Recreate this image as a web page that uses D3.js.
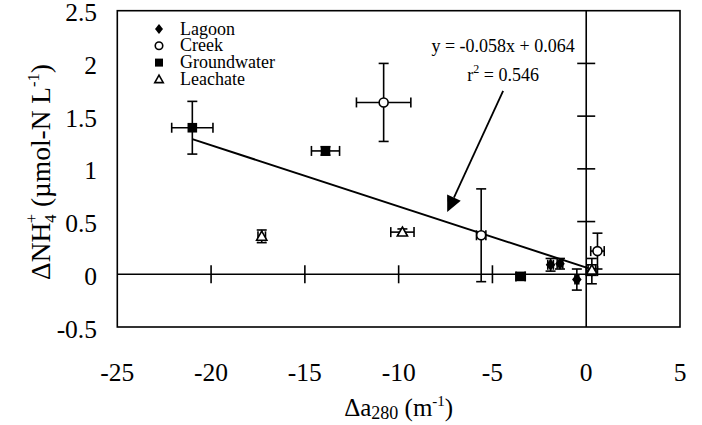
<!DOCTYPE html>
<html><head><meta charset="utf-8">
<script src="https://cdn.jsdelivr.net/npm/d3@7"></script>
<style>
body{margin:0;background:#fff;}
</style></head>
<body><svg id="c" width="702" height="425"></svg>
<script>
// ---- data ----
const xTicks = [-25, -20, -15, -10, -5, 0, 5];
const yTicks = [-0.5, 0, 0.5, 1, 1.5, 2, 2.5];
const xTickLabels = ["-25", "-20", "-15", "-10", "-5", "0", "5"];
const yTickLabels = ["-0.5", "0", "0.5", "1", "1.5", "2", "2.5"];
const seriesNames = ["Lagoon", "Creek", "Groundwater", "Leachate"];

const lagoonX = [-1.9, -1.4, -0.5, 0.3];
const lagoonY = [0.09, 0.10, -0.05, 0.03];
const lagoonXErr = [0.15, 0.15, 0.1, 0.3];
const lagoonYErr = [0.06, 0.05, 0.10, 0.12];

const creekX = [-10.8, -5.6, 0.6];
const creekY = [1.63, 0.37, 0.22];
const creekXErr = [1.45, 0.25, 0.36];
const creekYErr = [0.37, 0.44, 0.17];

const groundX = [-21, -13.9, -3.5];
const groundY = [1.39, 1.17, -0.02];
const groundXErr = [1.1, 0.75, 0.25];
const groundYErr = [0.25, 0.04, 0.03];

const leachX = [-17.3, -9.8, 0.3];
const leachY = [0.36, 0.40, 0.04];
const leachXErr = [0.2, 0.62, 0.2];
const leachYErr = [0.06, 0.03, 0.05];

const regSlope = -0.058, regIntercept = 0.064;
const regXRange = [-21, 0.1];

// ---- chart ----
const FONT = "'Liberation Serif', 'Times New Roman', Tinos, 'DejaVu Serif', serif";
const svg = d3.select("#c");
const x = d3.scaleLinear().domain([-25, 5]).range([117.3, 680]);
const y = d3.scaleLinear().domain([-0.5, 2.5]).range([327, 10.7]);
const g = svg.append("g").attr("font-family", FONT).attr("fill", "#000");
const SW = 1.6;

// box
g.append("rect").attr("x", x(-25)).attr("y", y(2.5))
  .attr("width", x(5) - x(-25)).attr("height", y(-0.5) - y(2.5))
  .attr("fill", "none").attr("stroke", "#000").attr("stroke-width", SW);

// zero lines
g.append("line").attr("x1", x(-25)).attr("x2", x(5)).attr("y1", y(0)).attr("y2", y(0))
  .attr("stroke", "#000").attr("stroke-width", SW);
g.append("line").attr("x1", x(0)).attr("x2", x(0)).attr("y1", y(-0.5)).attr("y2", y(2.5))
  .attr("stroke", "#000").attr("stroke-width", SW);

// ticks on zero lines
xTicks.filter(t => t > -25 && t < 0).forEach(t => {
  g.append("line").attr("x1", x(t)).attr("x2", x(t)).attr("y1", y(0) - 9).attr("y2", y(0) + 9)
    .attr("stroke", "#000").attr("stroke-width", SW);
});
yTicks.filter(t => t > 0 && t < 2.5).forEach(t => {
  g.append("line").attr("x1", x(0) - 9).attr("x2", x(0) + 9).attr("y1", y(t)).attr("y2", y(t))
    .attr("stroke", "#000").attr("stroke-width", SW);
});

// tick labels
xTicks.forEach((t, i) => {
  g.append("text").attr("x", x(t)).attr("y", 381).attr("text-anchor", "middle")
    .attr("font-size", 25.5).text(xTickLabels[i]);
});
yTicks.forEach((t, i) => {
  g.append("text").attr("x", 97).attr("y", y(t) + 10.5).attr("text-anchor", "end")
    .attr("font-size", 25.5).text(yTickLabels[i]);
});

// axis titles
const xt = g.append("text").attr("x", (x(-25) + x(5)) / 2).attr("y", 416)
  .attr("text-anchor", "middle").attr("font-size", 25);
xt.append("tspan").text("\u0394a");
xt.append("tspan").attr("font-size", 18).attr("dy", 3).text("280");
xt.append("tspan").attr("dy", -3).text(" (m");
xt.append("tspan").attr("font-size", 15).attr("dy", -10).text("-1");
xt.append("tspan").attr("dy", 10).text(")");

function buildYTitle(k) {
  const t = g.append("text").attr("class", "ytitle")
    .attr("transform", `translate(50,172) rotate(-90)`)
    .attr("text-anchor", "middle").attr("font-size", 25 * k);
  t.append("tspan").text("\u0394NH");
  t.append("tspan").attr("font-size", 15 * k).attr("dy", 5 * k).text("4");
  t.append("tspan").attr("font-size", 15 * k).attr("dx", -8 * k).attr("dy", -17 * k).text("+");
  t.append("tspan").attr("dy", 12 * k).text(" (\u00b5mol-N L");
  t.append("tspan").attr("font-size", 15 * k).attr("dy", -10 * k).text("-1");
  t.append("tspan").attr("dy", 10 * k).text(")");
  return t;
}
let yt = buildYTitle(1);
const ytLen = yt.node().getBBox().width;
const targetLen = 216;
if (ytLen > 0 && Math.abs(ytLen - targetLen) > 4) {
  const k = Math.max(0.85, Math.min(1.15, targetLen / ytLen));
  yt.remove();
  yt = buildYTitle(k);
}

// regression line
g.append("line")
  .attr("x1", x(regXRange[0])).attr("y1", y(regSlope * regXRange[0] + regIntercept))
  .attr("x2", x(regXRange[1])).attr("y2", y(regSlope * regXRange[1] + regIntercept))
  .attr("stroke", "#000").attr("stroke-width", 2);

// symbols
function drawSym(sel, type, cx, cy, s) {
  if (type === "diamond") {
    sel.append("path").attr("d", `M${cx},${cy - s}L${cx + s * 0.8},${cy}L${cx},${cy + s}L${cx - s * 0.8},${cy}Z`)
      .attr("fill", "#000");
  } else if (type === "circle") {
    sel.append("circle").attr("cx", cx).attr("cy", cy).attr("r", s * 0.75)
      .attr("fill", "#fff").attr("stroke", "#000").attr("stroke-width", 1.6);
  } else if (type === "square") {
    sel.append("rect").attr("x", cx - s * 0.8).attr("y", cy - s * 0.8).attr("width", s * 1.6).attr("height", s * 1.6)
      .attr("fill", "#000");
  } else if (type === "triangle") {
    sel.append("path").attr("d", `M${cx},${cy - s * 0.85}L${cx + s * 0.85},${cy + s * 0.65}L${cx - s * 0.85},${cy + s * 0.65}Z`)
      .attr("fill", "#fff").attr("stroke", "#000").attr("stroke-width", 1.6);
  }
}

const series = [
  {name: seriesNames[0], type: "diamond", xs: lagoonX, ys: lagoonY, xe: lagoonXErr, ye: lagoonYErr},
  {name: seriesNames[1], type: "circle", xs: creekX, ys: creekY, xe: creekXErr, ye: creekYErr},
  {name: seriesNames[2], type: "square", xs: groundX, ys: groundY, xe: groundXErr, ye: groundYErr},
  {name: seriesNames[3], type: "triangle", xs: leachX, ys: leachY, xe: leachXErr, ye: leachYErr}
];

const cap = 5;
series.forEach(s => {
  const eg = g.append("g").attr("stroke", "#000").attr("stroke-width", 1.6);
  s.xs.forEach((xv, i) => {
    const px = x(xv), py = y(s.ys[i]);
    const x0 = x(xv - s.xe[i]), x1 = x(xv + s.xe[i]);
    const y0 = y(s.ys[i] - s.ye[i]), y1 = y(s.ys[i] + s.ye[i]);
    eg.append("line").attr("x1", x0).attr("x2", x1).attr("y1", py).attr("y2", py);
    eg.append("line").attr("x1", x0).attr("x2", x0).attr("y1", py - cap).attr("y2", py + cap);
    eg.append("line").attr("x1", x1).attr("x2", x1).attr("y1", py - cap).attr("y2", py + cap);
    eg.append("line").attr("x1", px).attr("x2", px).attr("y1", y0).attr("y2", y1);
    eg.append("line").attr("x1", px - cap).attr("x2", px + cap).attr("y1", y0).attr("y2", y0);
    eg.append("line").attr("x1", px - cap).attr("x2", px + cap).attr("y1", y1).attr("y2", y1);
  });
});
series.forEach(s => {
  s.xs.forEach((xv, i) => drawSym(g, s.type, x(xv), y(s.ys[i]), 6));
});

// legend
series.forEach((s, i) => {
  const ly = 29 + i * 16.8;
  drawSym(g, s.type, 159, ly, 5);
  g.append("text").attr("x", 180).attr("y", ly + 5.5).attr("font-size", 18).text(s.name);
});

// annotation
const ax = x(-4.43);
g.append("text").attr("x", ax).attr("y", 52).attr("text-anchor", "middle").attr("font-size", 18)
  .text("y = -0.058x + 0.064");
const r2 = g.append("text").attr("x", ax).attr("y", 81).attr("text-anchor", "middle").attr("font-size", 18);
r2.append("tspan").text("r");
r2.append("tspan").attr("font-size", 12).attr("dy", -8).text("2");
r2.append("tspan").attr("dy", 8).text(" = 0.546");

// arrow
const aS = [x(-4.43), y(1.74)], aT = [x(-7.41), y(0.59)];
const ang = Math.atan2(aT[1] - aS[1], aT[0] - aS[0]);
const hl = 16, hw = 7.5;
const bx = aT[0] - hl * Math.cos(ang), by = aT[1] - hl * Math.sin(ang);
g.append("line").attr("x1", aS[0]).attr("y1", aS[1]).attr("x2", bx).attr("y2", by)
  .attr("stroke", "#000").attr("stroke-width", 1.8);
g.append("path").attr("d",
  `M${aT[0]},${aT[1]}L${bx + hw * Math.sin(ang)},${by - hw * Math.cos(ang)}L${bx - hw * Math.sin(ang)},${by + hw * Math.cos(ang)}Z`)
  .attr("fill", "#000");
</script></body></html>
